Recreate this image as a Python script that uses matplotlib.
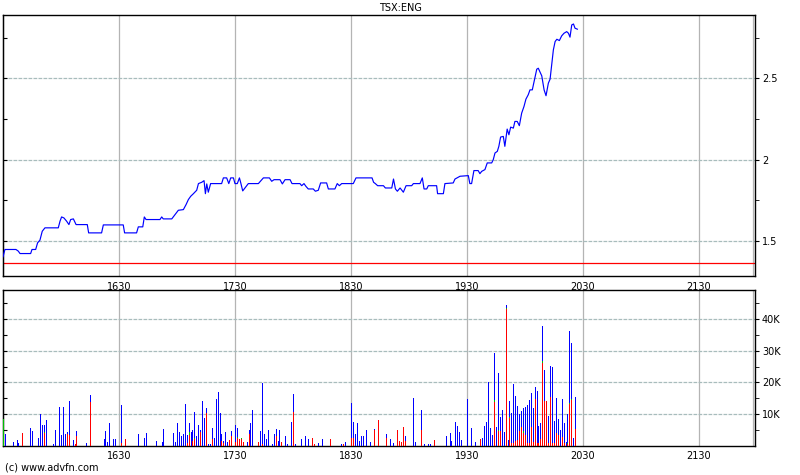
import matplotlib
matplotlib.use("Agg")
import matplotlib.pyplot as plt
from matplotlib.ticker import FixedLocator, FuncFormatter

# ---------------- data ----------------
title = "TSX:ENG"
credit = "(c) www.advfn.com"
tick_minutes = [60, 120, 180, 240, 300, 360]          # minutes after 15:30
tick_labels = ["1630", "1730", "1830", "1930", "2030", "2130"]
prev_close = 1.365

# price: minutes after 15:30 and last price
price_t = [0, 1, 6.7, 7.9, 8.8, 14.3, 15, 16.9, 17.9, 19.1, 20.3, 21.7, 28.6, 29.5, 30.3,
           31.5, 32.9, 34.1, 35, 36.4, 37.8, 43.6, 44.3, 51, 51.9, 62.2, 62.9, 69.1, 70,
           72.3, 73.1, 74, 81.2, 82.1, 82.9, 87.3, 89, 90.7, 93.3, 94.7, 95.9, 97.1, 98.5,
           100.2, 101.1, 102.8, 104, 104.7, 105.4, 106.2, 107.4, 108.8, 113.1, 114, 115.7,
           116.8, 117.8, 119.2, 120, 121.2, 122.3, 123, 124, 126.9, 132.1, 134.7, 137.8,
           139, 140.2, 143.3, 144.5, 145.9, 148.5, 149.5, 153.6, 154.5, 155.7, 156.7, 157.9,
           160.5, 161.6, 163.1, 164.3, 167.4, 168.3, 171.7, 172.9, 174, 175.2, 181.2, 182.6,
           190.9, 191.7, 192.6, 193.8, 196.8, 197.8, 201.1, 202, 203, 204, 205.4, 207.1,
           208.5, 211.4, 212.3, 215.7, 216.9, 217.8, 219.2, 220, 224.3, 224.8, 227.8, 228.6,
           232.9, 233.8, 236.4, 240.7, 241.5, 242.4, 243.6, 245.8, 246.7, 247.6, 249.3,
           250.5, 252.8, 253.6, 254.5, 255.7, 256.5, 257.4, 258.8, 259.6, 260.8, 261.7,
           262.6, 264, 264.8, 266, 267.1, 268.3, 269.5, 270.5, 271.7, 272.6, 273.8, 274.9,
           276.1, 276.9, 278.7, 279.9, 280.9, 282.1, 283, 283.9, 284.7, 285.6, 286.5, 287.8,
           289, 290.2, 291.6, 292.5, 293.3, 294.2, 295.1, 295.9, 297.1]
price_v = [1.403, 1.448, 1.448, 1.438, 1.423, 1.423, 1.448, 1.448, 1.489, 1.505, 1.56, 1.581,
           1.581, 1.622, 1.648, 1.642, 1.622, 1.601, 1.632, 1.636, 1.601, 1.601, 1.55, 1.55,
           1.599, 1.599, 1.55, 1.55, 1.587, 1.587, 1.648, 1.632, 1.632, 1.648, 1.636, 1.636,
           1.663, 1.689, 1.693, 1.724, 1.755, 1.775, 1.791, 1.812, 1.853, 1.861, 1.871, 1.791,
           1.851, 1.800, 1.853, 1.853, 1.853, 1.888, 1.888, 1.853, 1.888, 1.888, 1.853, 1.853,
           1.888, 1.857, 1.808, 1.853, 1.853, 1.888, 1.888, 1.867, 1.877, 1.877, 1.851, 1.877,
           1.877, 1.853, 1.853, 1.840, 1.853, 1.836, 1.820, 1.820, 1.806, 1.812, 1.857, 1.857,
           1.820, 1.820, 1.853, 1.840, 1.853, 1.853, 1.888, 1.888, 1.861, 1.853, 1.840, 1.840,
           1.826, 1.826, 1.881, 1.820, 1.806, 1.826, 1.800, 1.840, 1.840, 1.853, 1.853, 1.888,
           1.820, 1.820, 1.840, 1.840, 1.791, 1.791, 1.853, 1.857, 1.881, 1.898, 1.902, 1.853,
           1.853, 1.933, 1.933, 1.914, 1.928, 1.939, 1.980, 1.980, 2.000, 2.041, 2.051, 2.082,
           2.139, 2.143, 2.082, 2.188, 2.153, 2.200, 2.194, 2.235, 2.235, 2.209, 2.286, 2.327,
           2.372, 2.399, 2.429, 2.429, 2.491, 2.556, 2.562, 2.515, 2.429, 2.393, 2.470, 2.495,
           2.593, 2.675, 2.726, 2.740, 2.732, 2.761, 2.777, 2.787, 2.777, 2.753, 2.828, 2.834,
           2.808, 2.802]

# volume per minute (thousands of shares): minute, total, red part, green part
vol_t = [0, 1, 5, 7, 8, 10, 14, 15, 18, 19, 20, 21, 22, 26, 27, 29, 30, 31, 32, 33, 34, 36, 37,
         38, 43, 45, 52, 53, 54, 55, 57, 58, 61, 63, 70, 73, 74, 79, 82, 83, 88, 89, 90, 91,
         92, 93, 94, 95, 96, 97, 98, 99, 100, 101, 102, 103, 104, 105, 106, 107, 108, 109,
         110, 111, 112, 113, 114, 115, 116, 117, 118, 120, 121, 122, 123, 124, 126, 127, 128,
         129, 132, 133, 134, 135, 136, 137, 139, 140, 141, 142, 143, 144, 146, 147, 149, 150,
         151, 154, 156, 158, 160, 161, 163, 165, 169, 175, 176, 177, 180, 181, 182, 183, 184,
         185, 186, 188, 190, 192, 194, 198, 200, 202, 204, 205, 206, 207, 208, 212, 213, 216,
         218, 220, 221, 223, 229, 231, 232, 234, 235, 236, 237, 240, 242, 244, 247, 248, 249,
         250, 251, 252, 253, 254, 255, 256, 257, 258, 259, 260, 261, 262, 263, 264, 265, 266,
         267, 268, 269, 270, 271, 272, 273, 274, 275, 276, 277, 278, 279, 280, 281, 282, 283,
         284, 285, 286, 287, 288, 289, 290, 291, 292, 293, 294, 295, 296]
vol_total = [8.3, 3.75, 1.25, 1.9, 1.0, 4.0, 5.6, 4.5, 2.5, 10.1, 6.6, 6.6, 8.1, 0.6, 5.0, 12.2,
             3.4, 12.2, 3.75, 4.4, 14.0, 1.9, 0.6, 4.7, 0.9, 15.9, 2.2, 4.7, 1.25, 7.2, 2.2,
             2.2, 12.8, 2.2, 3.75, 2.5, 4.0, 1.6, 1.25, 5.3, 4.0, 1.25, 7.2, 4.4, 3.1, 3.75,
             13.1, 3.4, 7.2, 4.4, 5.0, 10.6, 3.1, 6.6, 5.0, 14.0, 8.75, 11.9, 0.6, 0.6, 5.6,
             2.5, 14.7, 16.9, 10.3, 3.75, 1.6, 4.4, 1.25, 1.9, 4.7, 6.6, 5.6, 2.2, 2.5, 1.25,
             1.25, 5.0, 7.2, 11.25, 1.25, 4.7, 19.9, 3.75, 2.2, 5.0, 0.6, 3.75, 5.3, 1.6, 5.0,
             1.25, 3.1, 0.6, 7.5, 16.25, 0.6, 2.2, 3.1, 2.2, 2.5, 0.6, 0.9, 2.2, 2.2, 0.6, 0.6,
             1.25, 13.4, 7.5, 3.75, 7.2, 1.6, 3.1, 3.1, 5.0, 1.25, 5.3, 8.1, 3.75, 2.2, 0.9,
             5.0, 1.6, 1.25, 5.9, 3.1, 15.0, 1.25, 11.25, 0.6, 0.6, 0.6, 1.9, 3.1, 4.0, 1.6,
             7.5, 6.25, 4.2, 1.9, 14.7, 5.6, 1.25, 2.2, 2.5, 6.25, 7.5, 20.0, 5.6, 3.4, 29.4,
             5.9, 22.8, 9.0, 11.25, 4.4, 44.3, 1.9, 14.0, 10.3, 19.4, 15.6, 12.5, 10.0, 10.9,
             11.9, 12.2, 12.8, 14.4, 16.6, 11.9, 18.4, 17.2, 6.25, 7.2, 37.8, 23.75, 14.0, 9.4,
             25.3, 24.7, 7.8, 15.0, 8.4, 5.0, 14.7, 7.2, 1.25, 10.0, 36.25, 32.5, 2.5, 15.3]
vol_red = [0, 0, 0, 0, 0, 4.0, 0, 0, 0, 0, 0, 3.9, 0, 0, 0, 0, 0, 0, 0, 3.8, 3.5, 0, 0.6, 3.2,
           0, 13.9, 0, 0, 0, 0, 0, 0, 0.8, 2.2, 0, 0, 0, 0, 0, 0, 0, 0, 0, 0, 0, 0, 0, 0.8,
           3.3, 0, 1.5, 2.0, 0, 0, 4.2, 0, 0, 10.2, 0, 0, 2.0, 0, 0, 0, 0, 1.6, 1.0, 0, 0,
           1.9, 3.2, 1.2, 2.5, 2.2, 2.0, 1.25, 0, 3.75, 0, 0, 1.25, 0, 0.5, 0, 0, 0, 0, 0,
           3.1, 0, 0, 1.25, 0, 0, 0, 10.7, 0, 0, 0, 0, 2.5, 0.6, 0, 0, 2.2, 0, 0.6, 0, 2.4,
           2.4, 0, 0, 0, 0, 0, 0, 0, 5.0, 8.1, 2.5, 0, 0, 5.0, 1.6, 1.25, 5.9, 1.5, 0, 0, 5.0,
           0, 0, 0, 1.9, 0, 0, 0, 0, 0, 0, 0, 0, 0, 0, 2.2, 0, 0, 0, 0, 0, 0, 13.9, 0, 4.5,
           4.7, 0, 0, 43.0, 0, 8.9, 0.8, 1.0, 1.6, 1.8, 4.7, 5.9, 4.0, 3.5, 1.0, 1.0, 5.9, 1.2,
           14.7, 1.0, 1.0, 2.2, 26.25, 14.0, 14.0, 1.0, 15.3, 1.0, 1.0, 4.0, 3.4, 0, 2.8, 1.0,
           0, 0.6, 13.1, 14.4, 0, 5.3]
vol_green = {0: 8.3, 21: 0.5, 96: 1.0, 99: 0.3, 121: 0.4, 123: 0.5, 254: 0.4, 256: 0.3,
             260: 0.5, 262: 0.3, 269: 0.5, 279: 0.4, 292: 0.4, 293: 0.5, 294: 0.5}

# ---------------- figure ----------------
W, H = 800, 475
fig = plt.figure(figsize=(W / 100, H / 100), dpi=100)
fig.patch.set_facecolor("white")

def frac(x0, y0, x1, y1):
    return [x0 / W, 1 - y1 / H, (x1 - x0) / W, (y1 - y0) / H]

ax = fig.add_axes(frac(3, 14.7, 755, 276))
axv = fig.add_axes(frac(3, 290.3, 755, 445.7))

XMIN, XMAX = 0, 389
grid_v = dict(color="#b4b4b4", lw=0.9, zorder=0)
grid_h = dict(color="#a8bcbc", lw=0.9, ls=(0, (3, 1)), zorder=0)

for a in (ax, axv):
    a.set_xlim(XMIN, XMAX)
    a.set_xticks(tick_minutes)
    a.set_xticklabels(tick_labels)
    a.tick_params(axis="x", length=0, labelsize=7, pad=4)
    for m in tick_minutes:
        a.axvline(m, **grid_v)
    a.axvline(388, **grid_v)
    for s in a.spines.values():
        s.set_color("black")
        s.set_linewidth(1.0)
    a.yaxis.tick_right()
    a.tick_params(axis="y", which="both", direction="out", length=3, labelsize=7,
                  pad=2, right=True, left=False)

# price panel
ax.set_ylim(1.285, 2.891)
major_p = [1.5, 2.0, 2.5]
minor_p = [1.75, 2.25, 2.75]
ax.yaxis.set_major_locator(FixedLocator(major_p))
ax.yaxis.set_minor_locator(FixedLocator(minor_p))
ax.yaxis.set_major_formatter(FuncFormatter(lambda v, p: f"{v:g}"))
for v in major_p:
    ax.axhline(v, **grid_h)
ax.axhline(prev_close, color="#ff0000", lw=0.9, zorder=2)
ax.plot(price_t, price_v, color="#0000ff", lw=0.85, zorder=3)
sec = ax.secondary_yaxis("left")
sec.set_yticks(major_p + minor_p)
sec.tick_params(direction="in", length=3, labelleft=False)

# volume panel
axv.set_ylim(0, 49.06)
major_v = [10, 20, 30, 40]
minor_v = [5, 15, 25, 35, 45]
axv.yaxis.set_major_locator(FixedLocator(major_v))
axv.yaxis.set_minor_locator(FixedLocator(minor_v))
axv.yaxis.set_major_formatter(FuncFormatter(lambda v, p: f"{int(v)}K"))
for v in major_v:
    axv.axhline(v, **grid_h)

green = [vol_green.get(t, 0.0) for t in vol_t]
red_top = list(vol_red)
green_top = [r + g for r, g in zip(vol_red, green)]
total_top = [max(tot, gt) for tot, gt in zip(vol_total, green_top)]
lw_bar = 0.72   # one pixel at 100 dpi
axv.vlines(vol_t, green_top, total_top, colors="#0000ff", lw=lw_bar, antialiased=False, zorder=3)
axv.vlines(vol_t, red_top, green_top, colors="#00c000", lw=lw_bar, antialiased=False, zorder=3)
axv.vlines(vol_t, [0] * len(vol_t), red_top, colors="#ff0000", lw=lw_bar, antialiased=False, zorder=3)
secv = axv.secondary_yaxis("left")
secv.set_yticks(major_v + minor_v)
secv.tick_params(direction="in", length=3, labelleft=False)

fig.text(0.5, 1 - 8 / H, title, ha="center", va="center", fontsize=7)
fig.text(5 / W, 1 - 468 / H, credit, ha="left", va="center", fontsize=7)

fig.savefig("out.png", dpi=100)
